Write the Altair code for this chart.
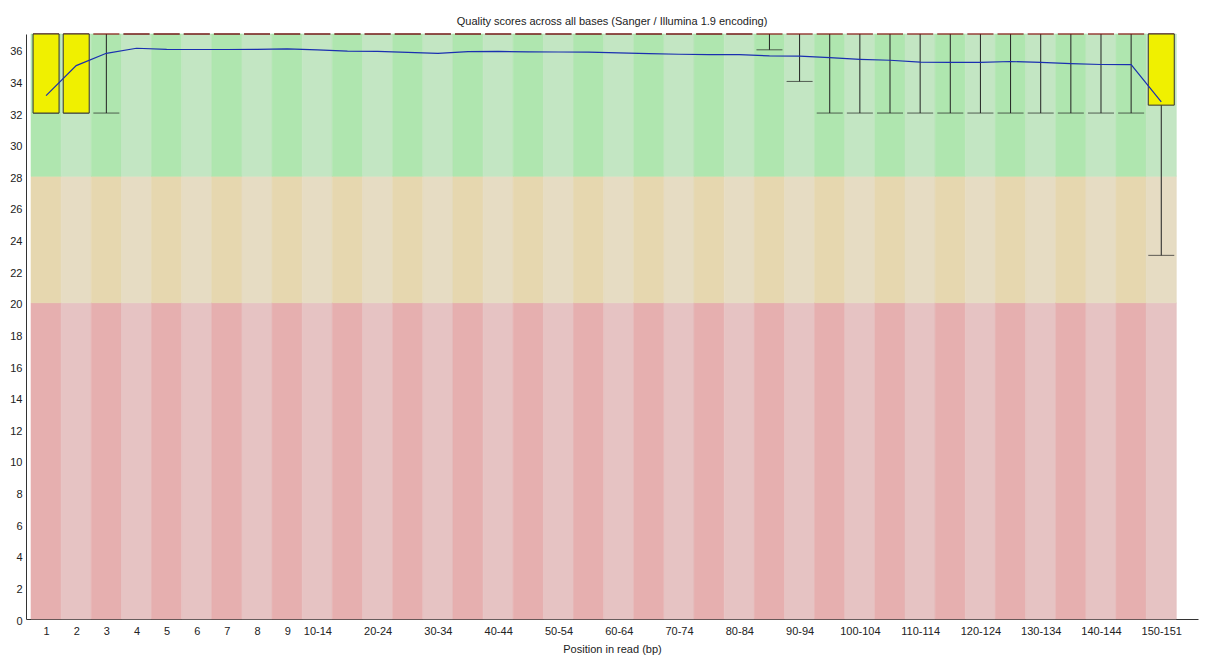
import altair as alt
import pandas as pd

positions = ["1", "2", "3", "4", "5", "6", "7", "8", "9", "10-14", "15-19", "20-24",
             "25-29", "30-34", "35-39", "40-44", "45-49", "50-54", "55-59", "60-64",
             "65-69", "70-74", "75-79", "80-84", "85-89", "90-94", "95-99", "100-104",
             "105-109", "110-114", "115-119", "120-124", "125-129", "130-134",
             "135-139", "140-144", "145-149", "150-151"]
shown_labels = ["1", "2", "3", "4", "5", "6", "7", "8", "9", "10-14", "20-24", "30-34",
                "40-44", "50-54", "60-64", "70-74", "80-84", "90-94", "100-104",
                "110-114", "120-124", "130-134", "140-144", "150-151"]

mean_q = [33.1, 35.0, 35.78, 36.1, 36.03, 36.02, 36.02, 36.03, 36.06, 35.99,
          35.92, 35.9, 35.84, 35.78, 35.88, 35.9, 35.87, 35.86, 35.85, 35.8,
          35.76, 35.72, 35.7, 35.69, 35.62, 35.6, 35.5, 35.4, 35.34, 35.22,
          35.2, 35.2, 35.26, 35.2, 35.13, 35.07, 35.06, 32.7]
median_q = [37, 37, 37, 37, 37, 37, 37, 37, 37, 37, 37, 37, 37, 37, 37, 37, 37, 37, 37,
            37, 37, 37, 37, 37, 37, 37, 37, 37, 37, 37, 37, 37, 37, 37, 37, 37, 37, 37]
lower_quartile = [32, 32, 37, 37, 37, 37, 37, 37, 37, 37, 37, 37, 37, 37, 37, 37, 37, 37,
                  37, 37, 37, 37, 37, 37, 37, 37, 37, 37, 37, 37, 37, 37, 37, 37, 37, 37,
                  37, 32.5]
upper_quartile = [37, 37, 37, 37, 37, 37, 37, 37, 37, 37, 37, 37, 37, 37, 37, 37, 37, 37,
                  37, 37, 37, 37, 37, 37, 37, 37, 37, 37, 37, 37, 37, 37, 37, 37, 37, 37,
                  37, 37]
pct10 = [32, 32, 32, 37, 37, 37, 37, 37, 37, 37, 37, 37, 37, 37, 37, 37, 37, 37, 37, 37,
         37, 37, 37, 37, 36, 34, 32, 32, 32, 32, 32, 32, 32, 32, 32, 32, 32, 23]
pct90 = [37, 37, 37, 37, 37, 37, 37, 37, 37, 37, 37, 37, 37, 37, 37, 37, 37, 37, 37, 37,
         37, 37, 37, 37, 37, 37, 37, 37, 37, 37, 37, 37, 37, 37, 37, 37, 37, 37]

zone_bounds = [0, 20, 28, 37]
zone_light = ["#e6c3c3", "#e6dcc3", "#c3e6c3"]
zone_dark = ["#e6afaf", "#e6d7af", "#afe6af"]

FONT = "Liberation Sans"
BAND_W = 30.4
PLOT_W = 1172
PLOT_H = 585

bg_rows = []
for i, p in enumerate(positions):
    for z in range(3):
        bg_rows.append({
            "x": i, "x2": i + 1,
            "y": zone_bounds[z], "y2": zone_bounds[z + 1],
            "c": zone_dark[z] if i % 2 == 0 else zone_light[z],
        })
bg = pd.DataFrame(bg_rows)

stats = pd.DataFrame({
    "pos": positions,
    "xc": [i + 0.5 for i in range(len(positions))],
    "mean": mean_q, "median": median_q,
    "lq": lower_quartile, "uq": upper_quartile,
    "p10": pct10, "p90": pct90,
})

label_arr = "[" + ",".join("'" + p + "'" for p in positions) + "]"
x_axis = alt.Axis(
    values=[positions.index(p) + 0.5 for p in shown_labels],
    labelExpr=label_arr + "[floor(datum.value)]",
    title="Position in read (bp)",
    grid=False, ticks=False, labelPadding=6,
    titleBaseline="alphabetic", titleY=33,
)
y_axis = alt.Axis(
    values=list(range(0, 37, 2)), title=None, grid=False, ticks=False,
    labelPadding=4, labelOffset=2,
)
x_scale = alt.Scale(domain=[0, PLOT_W / BAND_W], nice=False, zero=False)
y_scale = alt.Scale(domain=[0, 37], nice=False, zero=False)

X = lambda f: alt.X(f, type="quantitative", scale=x_scale, axis=x_axis)
Y = lambda f: alt.Y(f, type="quantitative", scale=y_scale, axis=y_axis)

background = alt.Chart(bg).mark_rect(strokeWidth=0.6).encode(
    x=X("x"), x2="x2", y=Y("y"), y2="y2",
    color=alt.Color("c:N", scale=None),
    stroke=alt.Stroke("c:N", scale=None),
)

whisker = alt.Chart(stats).mark_rule(color="#222", strokeWidth=1).encode(
    x=X("xc"), y=Y("p10"), y2="p90",
)
cap_low = alt.Chart(stats).mark_tick(color="#222", orient="horizontal", size=26,
                                     thickness=1).encode(x=X("xc"), y=Y("p10"))
cap_high = alt.Chart(stats).mark_tick(color="#222", orient="horizontal", size=26,
                                      thickness=1).encode(x=X("xc"), y=Y("p90"))
med = alt.Chart(stats).mark_tick(color="#c80000", orient="horizontal", size=26,
                                 thickness=1).encode(x=X("xc"), y=Y("median"))
box = alt.Chart(stats).transform_filter("datum.uq > datum.lq").mark_bar(
    color="#f0f000", stroke="#333", strokeWidth=1, size=26
).encode(x=X("xc"), y=Y("lq"), y2="uq")
mean_line = alt.Chart(stats).mark_line(color="#1a2fb0", strokeWidth=1.2).encode(
    x=X("xc"), y=Y("mean"),
)

chart = alt.layer(background, whisker, cap_low, cap_high, med, box, mean_line).properties(
    width=PLOT_W, height=PLOT_H,
    title=alt.TitleParams(
        "Quality scores across all bases (Sanger / Illumina 1.9 encoding)",
        font=FONT, fontSize=11, fontWeight="normal", color="#222",
        baseline="alphabetic", offset=10, dy=12, anchor="middle",
    ),
    autosize=alt.AutoSizeParams(type="none"),
    padding={"left": 18, "top": 26, "right": 2, "bottom": 40},
).configure_view(stroke=None).configure_axis(
    domainColor="#333", labelColor="#222", labelFont=FONT, labelFontSize=11,
    titleFont=FONT, titleFontSize=11, titleFontWeight="normal", titleColor="#222",
)

chart.save("out.html", embed_options={"renderer": "svg", "actions": False})
